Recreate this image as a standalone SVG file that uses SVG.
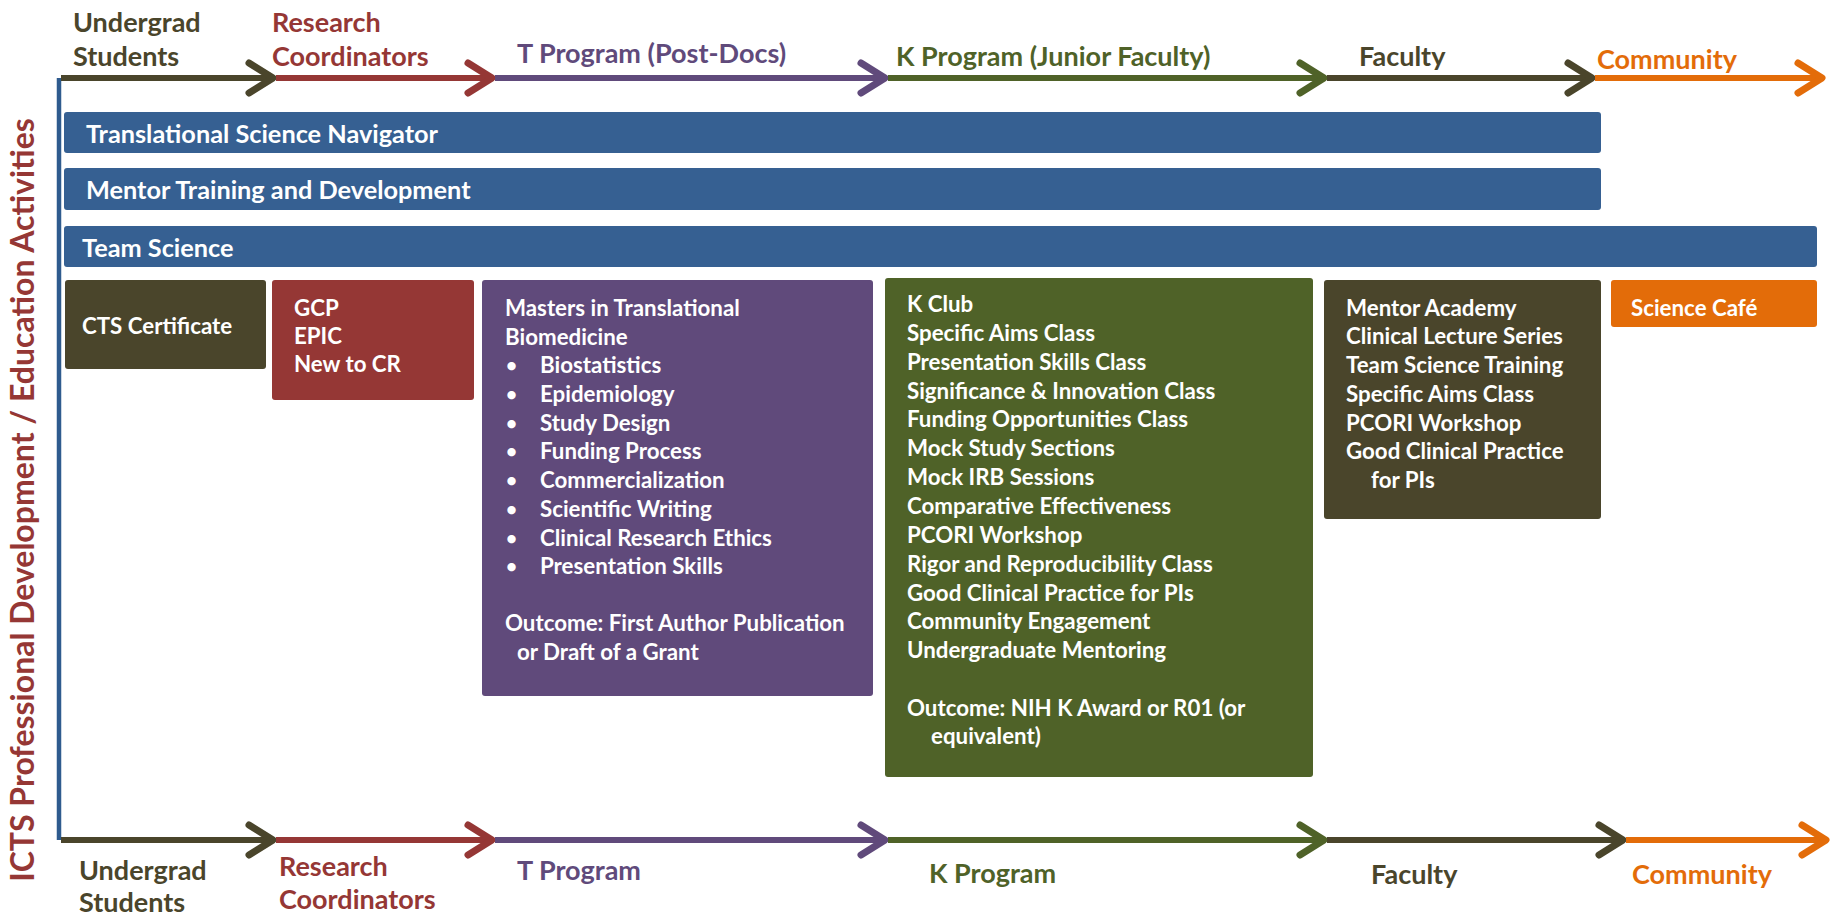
<svg xmlns="http://www.w3.org/2000/svg" width="1837" height="915" viewBox="0 0 1837 915">
<style>
text{font-family:Lato,"Open Sans","Liberation Sans",sans-serif;font-weight:700;dominant-baseline:central}
.hd{font-size:27px}
.bar{font-size:25.3px;fill:#fff}
.bx{font-size:22.3px;fill:#fff}
.bul{font-size:19px;fill:#fff}
.cDark{fill:#4a452b}.cRed{fill:#953735}.cPur{fill:#604a7b}.cGrn{fill:#4f6228}.cOrg{fill:#e36c09}.cBlue{fill:#366092}
.ln{stroke-width:6;fill:none}
</style>
<defs>
<marker id="aDark" markerUnits="userSpaceOnUse" viewBox="-32 -20 38 40" markerWidth="38" markerHeight="40" refX="0" refY="0" orient="auto" overflow="visible"><path d="M-24,-15 L0,0 L-24,15" fill="none" stroke="#4a452b" stroke-width="7" stroke-linecap="round" stroke-linejoin="round"/></marker>
<marker id="aRed" markerUnits="userSpaceOnUse" viewBox="-32 -20 38 40" markerWidth="38" markerHeight="40" refX="0" refY="0" orient="auto" overflow="visible"><path d="M-24,-15 L0,0 L-24,15" fill="none" stroke="#953735" stroke-width="7" stroke-linecap="round" stroke-linejoin="round"/></marker>
<marker id="aPur" markerUnits="userSpaceOnUse" viewBox="-32 -20 38 40" markerWidth="38" markerHeight="40" refX="0" refY="0" orient="auto" overflow="visible"><path d="M-24,-15 L0,0 L-24,15" fill="none" stroke="#604a7b" stroke-width="7" stroke-linecap="round" stroke-linejoin="round"/></marker>
<marker id="aGrn" markerUnits="userSpaceOnUse" viewBox="-32 -20 38 40" markerWidth="38" markerHeight="40" refX="0" refY="0" orient="auto" overflow="visible"><path d="M-24,-15 L0,0 L-24,15" fill="none" stroke="#4f6228" stroke-width="7" stroke-linecap="round" stroke-linejoin="round"/></marker>
<marker id="aOrg" markerUnits="userSpaceOnUse" viewBox="-32 -20 38 40" markerWidth="38" markerHeight="40" refX="0" refY="0" orient="auto" overflow="visible"><path d="M-24,-15 L0,0 L-24,15" fill="none" stroke="#e36c09" stroke-width="7" stroke-linecap="round" stroke-linejoin="round"/></marker>
</defs>
<rect width="1837" height="915" fill="#fff"/>

<g id="axis-label">
<text class="cRed" x="0" y="0" transform="translate(21,500) rotate(-90)" text-anchor="middle" style="font-size:32px">ICTS Professional Development / Education Activities</text>
</g>

<g id="connectors">
<line x1="59" y1="78" x2="59" y2="840" stroke="#2f5b8e" stroke-width="4.5"/>
<line class="ln" x1="61" y1="78" x2="273" y2="78" stroke="#4a452b" marker-end="url(#aDark)"/>
<line class="ln" x1="276" y1="78" x2="492" y2="78" stroke="#953735" marker-end="url(#aRed)"/>
<line class="ln" x1="495" y1="78" x2="885" y2="78" stroke="#604a7b" marker-end="url(#aPur)"/>
<line class="ln" x1="888" y1="78" x2="1324" y2="78" stroke="#4f6228" marker-end="url(#aGrn)"/>
<line class="ln" x1="1327" y1="78" x2="1592" y2="78" stroke="#4a452b" marker-end="url(#aDark)"/>
<line class="ln" x1="1595" y1="78" x2="1822" y2="78" stroke="#e36c09" marker-end="url(#aOrg)"/>

<line class="ln" x1="61" y1="840" x2="273" y2="840" stroke="#4a452b" marker-end="url(#aDark)"/>
<line class="ln" x1="276" y1="840" x2="492" y2="840" stroke="#953735" marker-end="url(#aRed)"/>
<line class="ln" x1="495" y1="840" x2="885" y2="840" stroke="#604a7b" marker-end="url(#aPur)"/>
<line class="ln" x1="888" y1="840" x2="1324" y2="840" stroke="#4f6228" marker-end="url(#aGrn)"/>
<line class="ln" x1="1327" y1="840" x2="1623" y2="840" stroke="#4a452b" marker-end="url(#aDark)"/>
<line class="ln" x1="1626" y1="840" x2="1826" y2="840" stroke="#e36c09" marker-end="url(#aOrg)"/>
</g>

<g id="top-labels">
<text class="hd cDark" x="73" y="21">Undergrad</text>
<text class="hd cDark" x="73" y="55">Students</text>
<text class="hd cRed" x="272" y="21">Research</text>
<text class="hd cRed" x="272" y="55">Coordinators</text>
<text class="hd cPur" x="517" y="52">T Program (Post-Docs)</text>
<text class="hd cGrn" x="896" y="55">K Program (Junior Faculty)</text>
<text class="hd cDark" x="1359" y="55">Faculty</text>
<text class="hd cOrg" x="1597" y="58">Community</text>
</g>

<g id="bottom-labels">
<text class="hd cDark" x="79" y="869">Undergrad</text>
<text class="hd cDark" x="79" y="901">Students</text>
<text class="hd cRed" x="279" y="865">Research</text>
<text class="hd cRed" x="279" y="898">Coordinators</text>
<text class="hd cPur" x="517" y="869">T Program</text>
<text class="hd cGrn" x="929" y="872">K Program</text>
<text class="hd cDark" x="1371" y="873">Faculty</text>
<text class="hd cOrg" x="1632" y="873">Community</text>
</g>

<g id="navigator">
<rect class="cBlue" x="64" y="112" width="1537" height="41" rx="3"/>
<text class="bar" x="86" y="133">Translational Science Navigator</text>
</g>
<g id="mentor-training">
<rect class="cBlue" x="64" y="168" width="1537" height="42" rx="3"/>
<text class="bar" x="86" y="189">Mentor Training and Development</text>
</g>
<g id="team-science">
<rect class="cBlue" x="64" y="226" width="1753" height="41" rx="3"/>
<text class="bar" x="82" y="247">Team Science</text>
</g>

<g id="cts">
<rect class="cDark" x="65" y="280" width="201" height="89" rx="3"/>
<text class="bx" x="82" y="325">CTS Certificate</text>
</g>

<g id="coordinators-box">
<rect class="cRed" x="272" y="280" width="202" height="120" rx="3"/>
<text class="bx" x="294" y="307">GCP</text>
<text class="bx" x="294" y="335">EPIC</text>
<text class="bx" x="294" y="363">New to CR</text>
</g>

<g id="masters">
<rect class="cPur" x="482" y="280" width="391" height="416" rx="3"/>
<text class="bx" x="505" y="307">Masters in Translational</text>
<text class="bx" x="505" y="336">Biomedicine</text>
<text class="bul" x="506" y="364">•</text><text class="bx" x="540" y="364">Biostatistics</text>
<text class="bul" x="506" y="393">•</text><text class="bx" x="540" y="393">Epidemiology</text>
<text class="bul" x="506" y="422">•</text><text class="bx" x="540" y="422">Study Design</text>
<text class="bul" x="506" y="450">•</text><text class="bx" x="540" y="450">Funding Process</text>
<text class="bul" x="506" y="479">•</text><text class="bx" x="540" y="479">Commercialization</text>
<text class="bul" x="506" y="508">•</text><text class="bx" x="540" y="508">Scientific Writing</text>
<text class="bul" x="506" y="537">•</text><text class="bx" x="540" y="537">Clinical Research Ethics</text>
<text class="bul" x="506" y="565">•</text><text class="bx" x="540" y="565">Presentation Skills</text>
<text class="bx" x="505" y="622">Outcome: First Author Publication</text>
<text class="bx" x="517" y="651">or Draft of a Grant</text>
</g>

<g id="k-program">
<rect class="cGrn" x="885" y="278" width="428" height="499" rx="3"/>
<text class="bx" x="907" y="303">K Club</text>
<text class="bx" x="907" y="332">Specific Aims Class</text>
<text class="bx" x="907" y="361">Presentation Skills Class</text>
<text class="bx" x="907" y="390">Significance &amp; Innovation Class</text>
<text class="bx" x="907" y="418">Funding Opportunities Class</text>
<text class="bx" x="907" y="447">Mock Study Sections</text>
<text class="bx" x="907" y="476">Mock IRB Sessions</text>
<text class="bx" x="907" y="505">Comparative Effectiveness</text>
<text class="bx" x="907" y="534">PCORI Workshop</text>
<text class="bx" x="907" y="563">Rigor and Reproducibility Class</text>
<text class="bx" x="907" y="592">Good Clinical Practice for PIs</text>
<text class="bx" x="907" y="620">Community Engagement</text>
<text class="bx" x="907" y="649">Undergraduate Mentoring</text>
<text class="bx" x="907" y="707">Outcome: NIH K Award or R01 (or</text>
<text class="bx" x="931" y="735">equivalent)</text>
</g>

<g id="faculty-box">
<rect class="cDark" x="1324" y="280" width="277" height="239" rx="3"/>
<text class="bx" x="1346" y="307">Mentor Academy</text>
<text class="bx" x="1346" y="335">Clinical Lecture Series</text>
<text class="bx" x="1346" y="364">Team Science Training</text>
<text class="bx" x="1346" y="393">Specific Aims Class</text>
<text class="bx" x="1346" y="422">PCORI Workshop</text>
<text class="bx" x="1346" y="450">Good Clinical Practice</text>
<text class="bx" x="1371" y="479">for PIs</text>
</g>

<g id="science-cafe">
<rect class="cOrg" x="1611" y="280" width="206" height="47" rx="3"/>
<text class="bx" x="1631" y="307">Science Café</text>
</g>
</svg>
